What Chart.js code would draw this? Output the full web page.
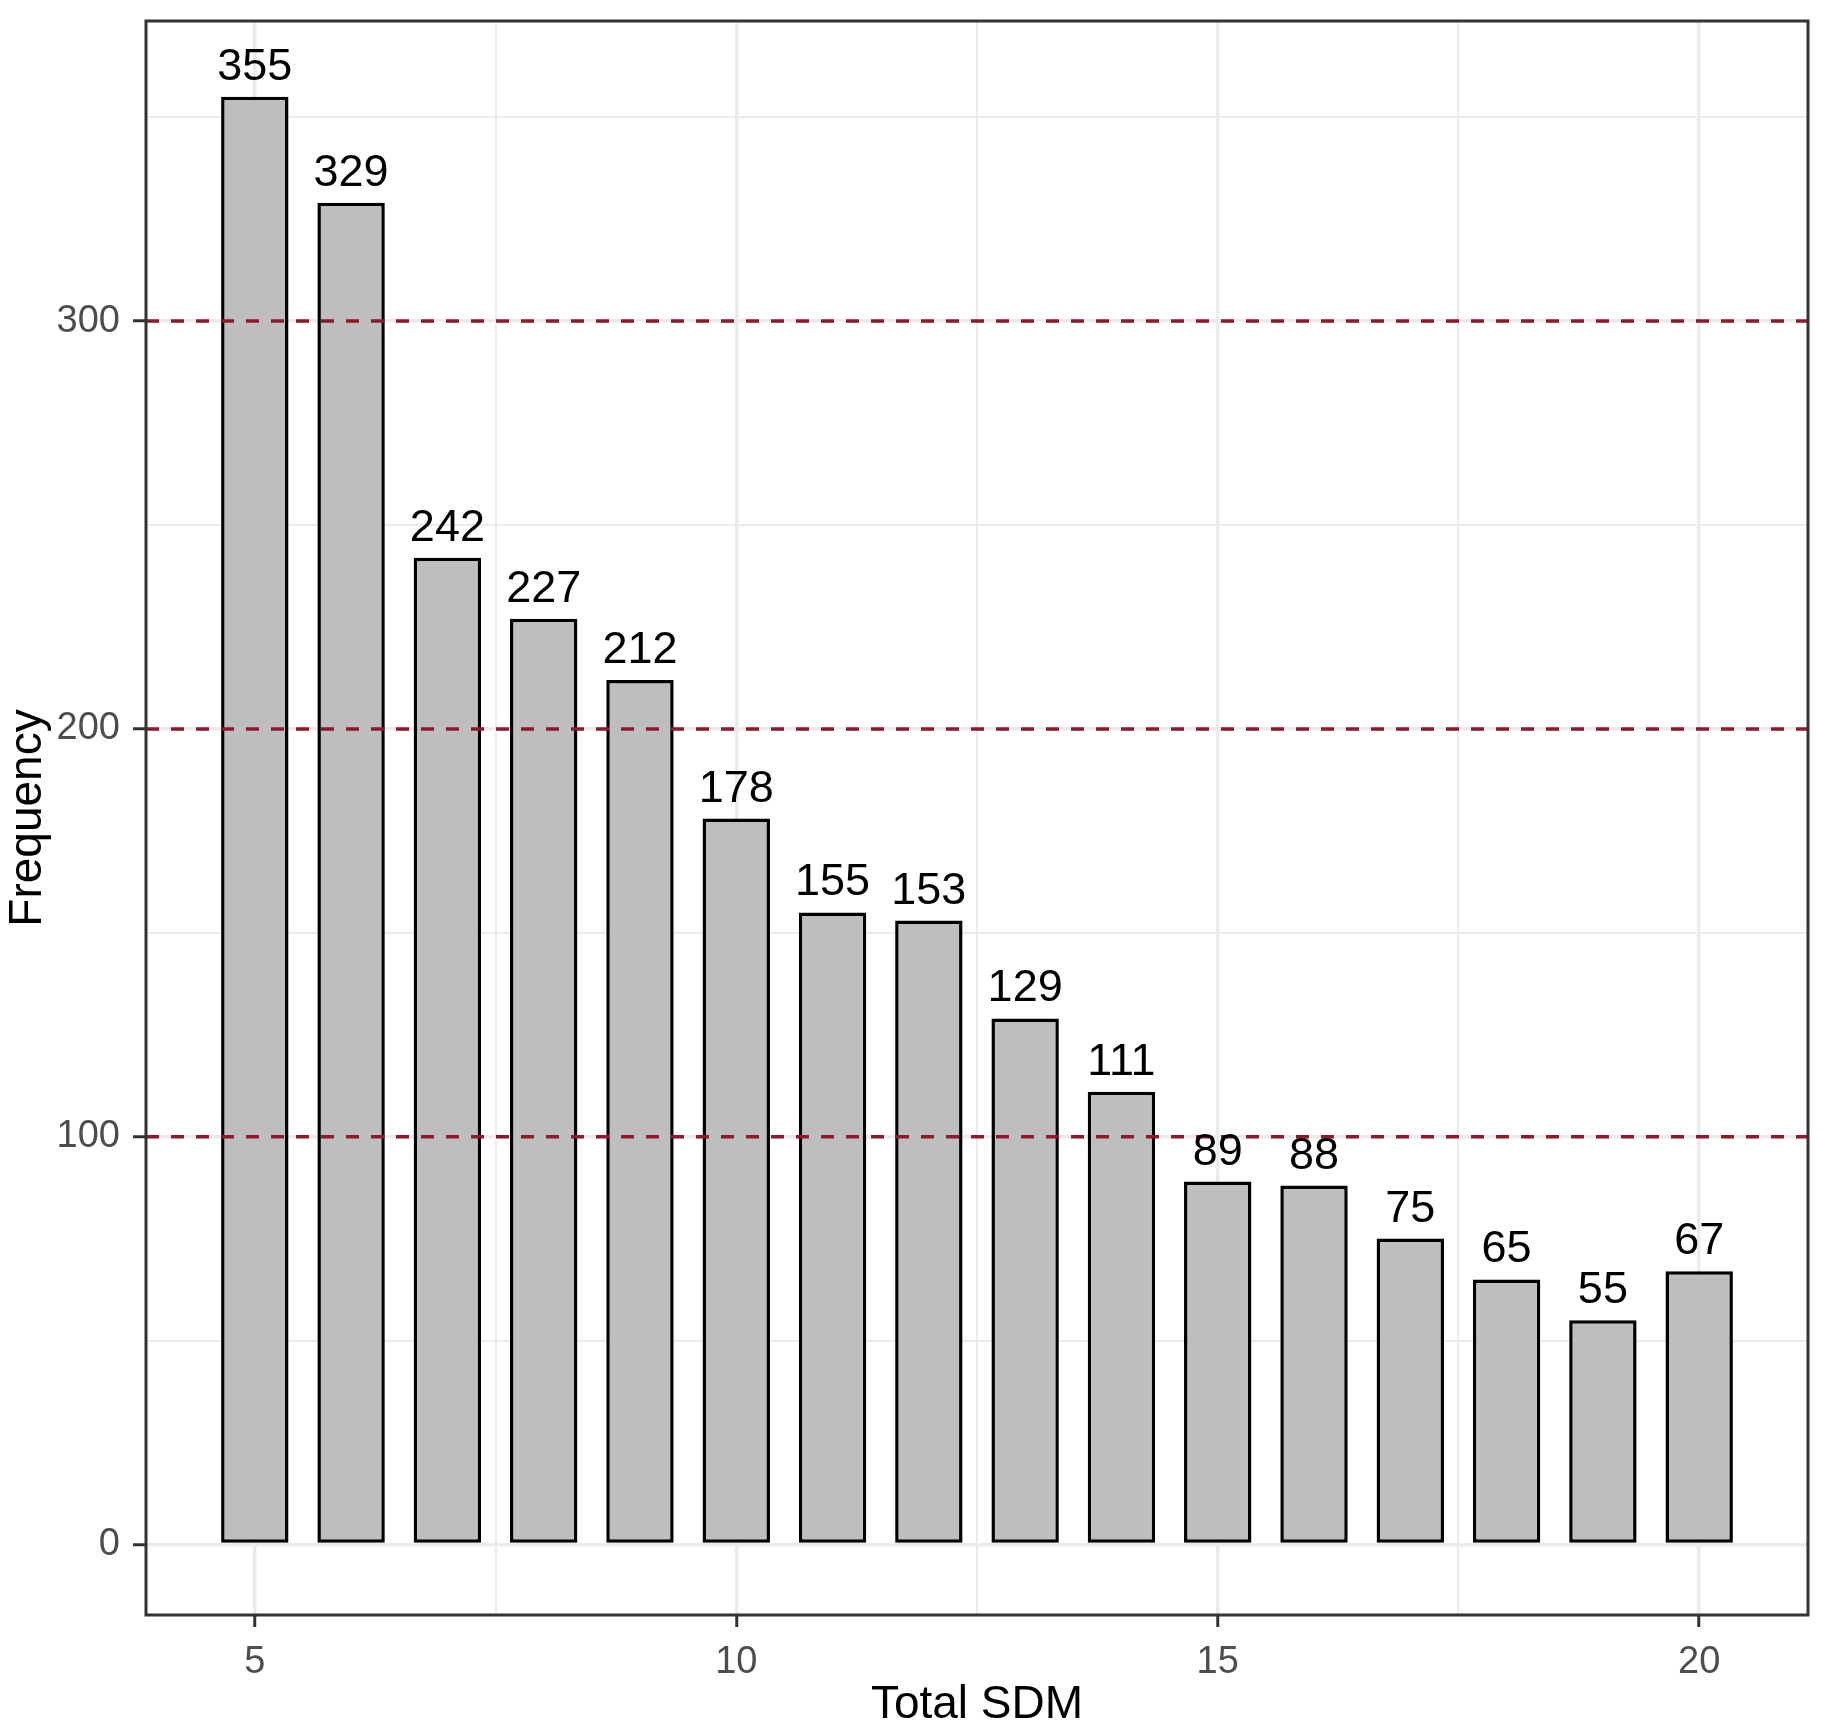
<!DOCTYPE html>
<html>
<head>
<meta charset="utf-8">
<script src="https://cdn.jsdelivr.net/npm/chart.js@4.4.1/dist/chart.umd.min.js"></script>
<style>
  html,body{margin:0;padding:0;background:#fff;}
  canvas{display:block;}
</style>
</head>
<body>
<canvas id="sdmChart" width="1835" height="1732"></canvas>
<script>
// data
const totalSdm  = [5, 6, 7, 8, 9, 10, 11, 12, 13, 14, 15, 16, 17, 18, 19, 20];
const frequency = [355, 329, 242, 227, 212, 178, 155, 153, 129, 111, 89, 88, 75, 65, 55, 67];
const xTicks = [5, 10, 15, 20];
const xMinor = [7.5, 12.5, 17.5];
const yTicks = [0, 100, 200, 300];
const yMinor = [50, 150, 250, 350];
const refLines = [100, 200, 300];

const X_MIN = 3.87, X_MAX = 21.13;
const Y_MIN = -17.3, Y_MAX = 373.6;
const FONT = "'Liberation Sans', Arial, sans-serif";

const isMajor = (v, list) => list.includes(v);

const panelFrame = {
  id:'panelFrame',
  afterDraw(chart){
    const {ctx, chartArea:a} = chart;
    ctx.save();
    ctx.strokeStyle = '#333333';
    ctx.lineWidth = 3;
    ctx.strokeRect(a.left, a.top, a.right - a.left, a.bottom - a.top);
    ctx.restore();
  }
};

const barLabels = {
  id:'barLabels',
  afterDatasetsDraw(chart){
    const ctx = chart.ctx;
    const meta = chart.getDatasetMeta(0);
    ctx.save();
    ctx.font = '45px ' + FONT;
    ctx.fillStyle = '#000';
    ctx.textAlign = 'center';
    ctx.textBaseline = 'alphabetic';
    meta.data.forEach((el, i) => {
      ctx.fillText(String(frequency[i]), el.x, el.y - 17);
    });
    ctx.restore();
  }
};

const lineSets = refLines.map(v => ({
  type:'line',
  data:[{x:X_MIN, y:v}, {x:X_MAX, y:v}],
  borderColor:'#8b1a2a',
  borderWidth:3.5,
  borderDash:[13, 12],
  pointRadius:0,
  fill:false,
  order:0
}));

new Chart(document.getElementById('sdmChart'), {
  type:'bar',
  data:{
    datasets:[
      {
        data: totalSdm.map((x, i) => ({x, y: frequency[i]})),
        backgroundColor:'#bebebe',
        borderColor:'#000000',
        borderWidth:3.5,
        borderSkipped:false,
        categoryPercentage:1,
        barPercentage:0.7,
        order:1
      },
      ...lineSets
    ]
  },
  options:{
    responsive:false,
    animation:false,
    devicePixelRatio:1,
    layout:{ padding:{ left:0, top:21, right:27, bottom:0 } },
    plugins:{ legend:{display:false}, tooltip:{enabled:false} },
    scales:{
      x:{
        type:'linear',
        offset:false,
        min:X_MIN, max:X_MAX,
        afterBuildTicks(s){ s.ticks = [...xTicks, ...xMinor].sort((a,b)=>a-b).map(v => ({value:v})); },
        afterFit(s){ s.height = 117; s.paddingLeft = 0; s.paddingRight = 0; },
        border:{ display:false },
        grid:{
          offset:false,
          color:'#ebebeb',
          lineWidth: c => isMajor(c.tick.value, xTicks) ? 3.5 : 2,
          tickColor: c => isMajor(c.tick.value, xTicks) ? '#333333' : 'rgba(0,0,0,0)',
          tickLength:12,
          tickWidth:3
        },
        ticks:{
          autoSkip:false,
          maxRotation:0,
          padding:13,
          color:'#4d4d4d',
          font:{ family:FONT, size:38 },
          callback: v => isMajor(v, xTicks) ? String(v) : ''
        },
        title:{
          display:true,
          text:'Total SDM',
          color:'#000',
          font:{ family:FONT, size:46, lineHeight:1.15 },
          padding:0
        }
      },
      y:{
        type:'linear',
        min:Y_MIN, max:Y_MAX,
        afterBuildTicks(s){ s.ticks = [...yTicks, ...yMinor].sort((a,b)=>a-b).map(v => ({value:v})); },
        afterFit(s){ s.width = 146; s.paddingTop = 0; s.paddingBottom = 0; },
        border:{ display:false },
        grid:{
          color:'#ebebeb',
          lineWidth: c => isMajor(c.tick.value, yTicks) ? 3.5 : 2,
          tickColor: c => isMajor(c.tick.value, yTicks) ? '#333333' : 'rgba(0,0,0,0)',
          tickLength:13,
          tickWidth:3
        },
        ticks:{
          autoSkip:false,
          padding:13,
          color:'#4d4d4d',
          font:{ family:FONT, size:38 },
          callback: v => isMajor(v, yTicks) ? String(v) : ''
        },
        title:{
          display:true,
          text:'Frequency',
          color:'#000',
          font:{ family:FONT, size:46, lineHeight:1.24 },
          padding:0
        }
      }
    }
  },
  plugins:[barLabels, panelFrame]
});
</script>
</body>
</html>
